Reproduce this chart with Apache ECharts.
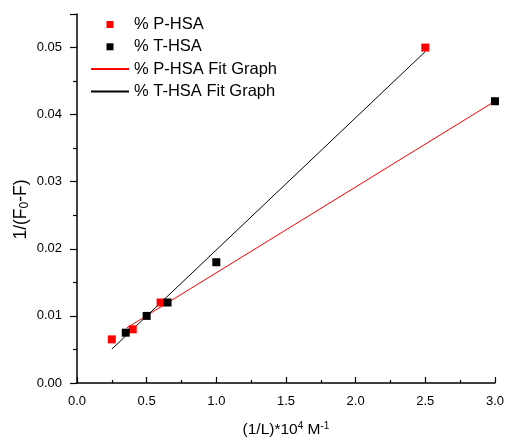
<!DOCTYPE html>
<html>
<head>
<meta charset="utf-8">
<script src="https://cdn.jsdelivr.net/npm/echarts@6/dist/echarts.min.js"></script>
<style>
html,body{margin:0;padding:0;background:#fff;}
#chart{width:507px;height:443px;}
</style>
</head>
<body>
<div id="chart"></div>
<script>
// Data
var pHsaX = [0.25, 0.40, 0.60, 2.50];
var pHsaY = [0.0065, 0.0080, 0.0120, 0.0500];
var tHsaX = [0.35, 0.50, 0.65, 1.00, 3.00];
var tHsaY = [0.0075, 0.0100, 0.0120, 0.0180, 0.0420];
var pFitX = [0.356, 3.00];
var pFitY = [0.0082, 0.0420];
var tFitX = [0.25, 2.50];
var tFitY = [0.00505, 0.0494];
var seriesNames = ['% P-HSA', '% T-HSA', '% P-HSA Fit Graph', '% T-HSA Fit Graph'];
var xTicks = [0, 0.5, 1.0, 1.5, 2.0, 2.5, 3.0];
var yTicks = [0, 0.01, 0.02, 0.03, 0.04, 0.05];

function pairs(xs, ys) { return xs.map(function (x, i) { return [x, ys[i]]; }); }

var FONT = '"Liberation Sans", Arial, sans-serif';
var SQUARE = 'path://M0,0L10,0L10,10L0,10Z';
var chart = echarts.init(document.getElementById('chart'), null, { renderer: 'canvas' });
chart.setOption({
  animation: false,
  backgroundColor: '#ffffff',
  textStyle: { fontFamily: FONT },
  grid: { left: 77, right: 7, top: 14, bottom: 58, containLabel: false },
  legend: {
    orient: 'vertical',
    left: 85,
    top: 10.5,
    itemWidth: 38,
    itemHeight: 7,
    itemGap: 4.3,
    symbolKeepAspect: true,
    selectedMode: false,
    textStyle: { fontFamily: FONT, fontSize: 16.5, color: '#000', lineHeight: 18 },
    data: [
      { name: seriesNames[0], icon: SQUARE },
      { name: seriesNames[1], icon: SQUARE },
      { name: seriesNames[2], itemStyle: { opacity: 0 } },
      { name: seriesNames[3], itemStyle: { opacity: 0 } }
    ]
  },
  xAxis: {
    type: 'value',
    min: xTicks[0],
    max: xTicks[xTicks.length - 1],
    interval: 0.5,
    name: '{a|(1/L)*10}{s|4}{a| M}{s|-1}',
    nameLocation: 'middle',
    nameGap: 38,
    nameMoveOverlap: false,
    nameTextStyle: {
      color: '#000',
      rich: {
        a: { fontFamily: FONT, fontSize: 15.5, color: '#000', lineHeight: 18 },
        s: { fontFamily: FONT, fontSize: 10, color: '#000', lineHeight: 10, verticalAlign: 'top' }
      }
    },
    axisLine: { onZero: false, lineStyle: { color: '#000', width: 1.5 } },
    axisTick: { inside: true, length: 6, lineStyle: { color: '#000', width: 1.2 } },
    minorTick: { show: true, splitNumber: 2, length: 3, lineStyle: { color: '#000', width: 1.2 } },
    splitLine: { show: false },
    axisLabel: {
      color: '#000', fontSize: 13, fontFamily: FONT, margin: 12,
      formatter: function (v) { return v.toFixed(1); }
    }
  },
  yAxis: {
    type: 'value',
    min: yTicks[0],
    max: 0.055,
    interval: 0.01,
    name: '{a|1/(F}{s|0}{a|-F)}',
    nameLocation: 'middle',
    nameGap: 46,
    nameMoveOverlap: false,
    nameTextStyle: {
      color: '#000',
      padding: [0, 22, 0, 0],
      rich: {
        a: { fontFamily: FONT, fontSize: 17.5, color: '#000', lineHeight: 19 },
        s: { fontFamily: FONT, fontSize: 12, color: '#000', lineHeight: 12, verticalAlign: 'bottom' }
      }
    },
    axisLine: { onZero: false, lineStyle: { color: '#000', width: 1.5 } },
    axisTick: { inside: false, length: 7, lineStyle: { color: '#000', width: 1.2 } },
    minorTick: { show: true, splitNumber: 2, length: 4, lineStyle: { color: '#000', width: 1.2 } },
    splitLine: { show: false },
    axisLabel: {
      color: '#000', fontSize: 13, fontFamily: FONT, margin: 15, showMaxLabel: false,
      formatter: function (v) { return v.toFixed(2); }
    }
  },
  series: [
    {
      name: seriesNames[2], type: 'line', data: pairs(pFitX, pFitY),
      symbol: 'none', lineStyle: { color: '#ff0000', width: 1 }, itemStyle: { color: '#ff0000' }, z: 2
    },
    {
      name: seriesNames[3], type: 'line', data: pairs(tFitX, tFitY),
      symbol: 'none', lineStyle: { color: '#000000', width: 1 }, itemStyle: { color: '#000000' }, z: 2
    },
    {
      name: seriesNames[0], type: 'scatter', data: pairs(pHsaX, pHsaY),
      symbol: 'rect', symbolSize: 8, itemStyle: { color: '#ff0000', opacity: 1 }, z: 3
    },
    {
      name: seriesNames[1], type: 'scatter', data: pairs(tHsaX, tHsaY),
      symbol: 'rect', symbolSize: 8, itemStyle: { color: '#000000', opacity: 1 }, z: 4
    }
  ]
});
</script>
</body>
</html>
